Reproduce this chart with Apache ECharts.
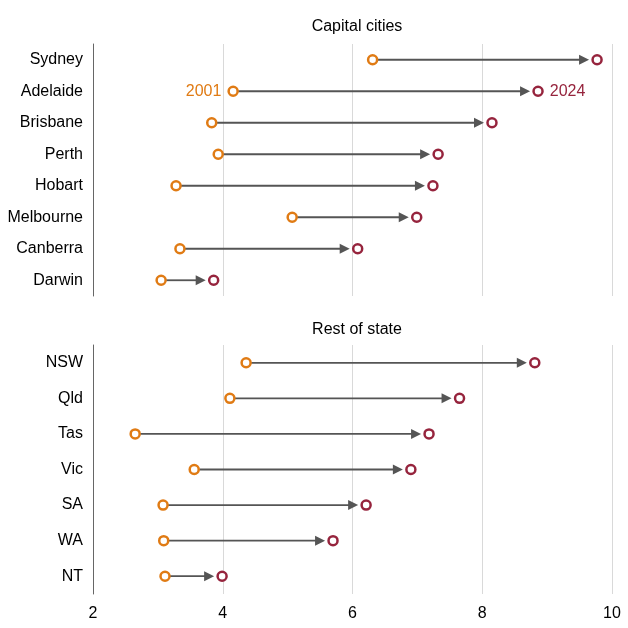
<!DOCTYPE html>
<html><head><meta charset="utf-8">
<script src="https://cdn.jsdelivr.net/npm/echarts@6/dist/echarts.min.js"></script>
<style>html,body{margin:0;padding:0;background:#fff}#c{width:628px;height:628px}</style>
</head><body><div id="c"></div>
<script>
var capCities = ['Sydney', 'Adelaide', 'Brisbane', 'Perth', 'Hobart', 'Melbourne', 'Canberra', 'Darwin'];
var cap2001 = [6.31, 4.16, 3.83, 3.93, 3.28, 5.07, 3.34, 3.05];
var cap2024 = [9.77, 8.86, 8.15, 7.32, 7.24, 6.99, 6.08, 3.86];
var restStates = ['NSW', 'Qld', 'Tas', 'Vic', 'SA', 'WA', 'NT'];
var rest2001 = [4.36, 4.11, 2.65, 3.56, 3.08, 3.09, 3.11];
var rest2024 = [8.81, 7.65, 7.18, 6.90, 6.21, 5.70, 3.99];
var xTicks = [2, 4, 6, 8, 10];

var orange = '#e07b14', maroon = '#96243d', grey = '#555';
var font = 'Arial, Liberation Sans, sans-serif';

function arrowSeries(idx, cats, a, b) {
    return {
        type: 'custom', xAxisIndex: idx, yAxisIndex: idx, z: 2,
        data: cats.map(function (c, i) { return [a[i], b[i], i]; }),
        renderItem: function (params, api) {
            var p1 = api.coord([api.value(0), api.value(2)]);
            var p2 = api.coord([api.value(1), api.value(2)]);
            var tip = p2[0] - 8;
            return {
                type: 'group', children: [
                    { type: 'line', shape: { x1: p1[0] + 5, y1: p1[1], x2: tip - 8, y2: p1[1] },
                      style: { stroke: grey, lineWidth: 1.8 } },
                    { type: 'polygon', shape: { points: [[tip, p1[1]], [tip - 10, p1[1] - 5], [tip - 10, p1[1] + 5]] },
                      style: { fill: grey } }
                ]
            };
        }
    };
}
function pointSeries(idx, vals, color, labelText) {
    return {
        type: 'scatter', xAxisIndex: idx, yAxisIndex: idx, z: 3,
        symbol: 'circle', symbolSize: 9,
        itemStyle: { color: '#fff', borderColor: color, borderWidth: 2.5, opacity: 1 },
        data: vals.map(function (v, i) {
            var d = { value: [v, i] };
            if (labelText && i === 1) {
                d.label = { show: true, formatter: labelText.text, position: labelText.pos,
                    color: color, fontSize: 16, fontFamily: font, distance: 6 };
            }
            return d;
        })
    };
}

var yBase = {
    type: 'category', inverse: true,
    axisLine: { show: true, lineStyle: { color: '#666' } },
    axisTick: { show: false },
    axisLabel: { color: '#000', fontSize: 16, fontFamily: font, margin: 10 },
    splitLine: { show: false }
};
var xBase = {
    type: 'value', min: 2, max: 10, interval: 2,
    splitLine: { show: true, lineStyle: { color: '#d9d9d9' } },
    axisTick: { show: false }
};

var chart = echarts.init(document.getElementById('c'));
chart.setOption({
    animation: false,
    title: [
        { text: 'Capital cities', left: 352, textAlign: 'center', top: 14,
          textStyle: { fontSize: 16, fontWeight: 'normal', color: '#000', fontFamily: font } },
        { text: 'Rest of state', left: 352, textAlign: 'center', top: 317,
          textStyle: { fontSize: 16, fontWeight: 'normal', color: '#000', fontFamily: font } }
    ],
    grid: [
        { left: 93, right: 16, top: 44, height: 252 },
        { left: 93, right: 16, top: 345, height: 249 }
    ],
    xAxis: [
        Object.assign({}, xBase, { gridIndex: 0, axisLine: { show: false }, axisLabel: { show: false } }),
        Object.assign({}, xBase, { gridIndex: 1, axisLine: { show: false },
            axisLabel: { color: '#000', fontSize: 16, fontFamily: font, margin: 12 } })
    ],
    yAxis: [
        Object.assign({}, yBase, { gridIndex: 0, data: capCities }),
        Object.assign({}, yBase, { gridIndex: 1, data: restStates })
    ],
    series: [
        arrowSeries(0, capCities, cap2001, cap2024),
        pointSeries(0, cap2001, orange, { text: '2001', pos: 'left' }),
        pointSeries(0, cap2024, maroon, { text: '2024', pos: 'right' }),
        arrowSeries(1, restStates, rest2001, rest2024),
        pointSeries(1, rest2001, orange),
        pointSeries(1, rest2024, maroon)
    ]
});
</script></body></html>
